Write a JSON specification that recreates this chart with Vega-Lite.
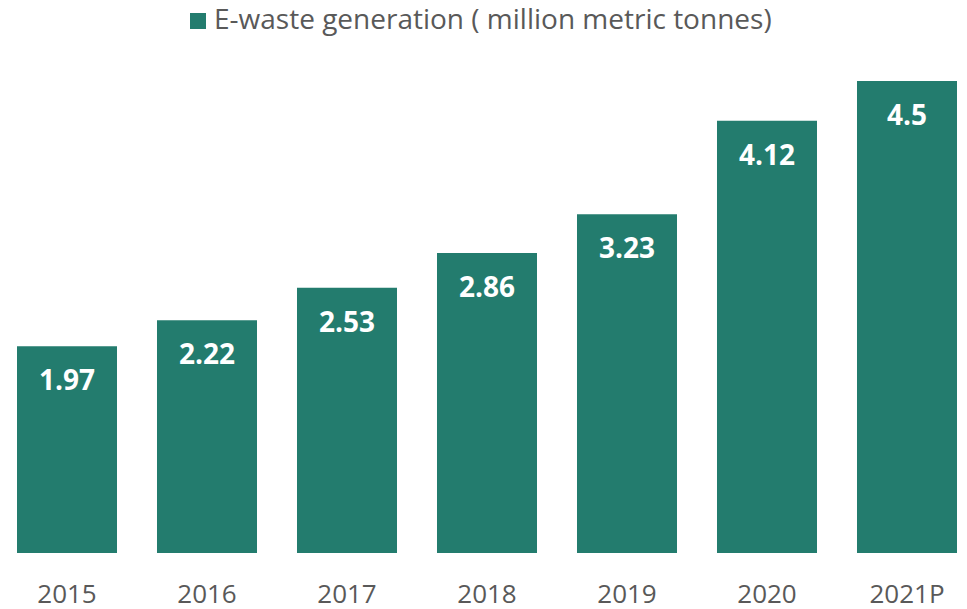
{
  "$schema": "https://vega.github.io/schema/vega-lite/v6.json",
  "width": 940,
  "height": 472,
  "autosize": {"type": "none"},
  "padding": {"left": 17, "top": 81, "right": 10, "bottom": 56},
  "background": "white",
  "data": {"values": [
    {"year": "2015", "value": 1.97, "series": "E-waste generation ( million metric tonnes)"},
    {"year": "2016", "value": 2.22, "series": "E-waste generation ( million metric tonnes)"},
    {"year": "2017", "value": 2.53, "series": "E-waste generation ( million metric tonnes)"},
    {"year": "2018", "value": 2.86, "series": "E-waste generation ( million metric tonnes)"},
    {"year": "2019", "value": 3.23, "series": "E-waste generation ( million metric tonnes)"},
    {"year": "2020", "value": 4.12, "series": "E-waste generation ( million metric tonnes)"},
    {"year": "2021P", "value": 4.5, "series": "E-waste generation ( million metric tonnes)"}
  ]},
  "config": {"view": {"stroke": null}, "font": "Open Sans"},
  "encoding": {
    "x": {"field": "year", "type": "ordinal", "sort": null,
      "scale": {"paddingInner": 0.2857, "paddingOuter": 0},
      "axis": {"title": null, "domain": false, "ticks": false, "labelAngle": 0,
        "labelFontSize": 26, "labelColor": "#595959", "labelPadding": 28, "labelFont": "Open Sans"}},
    "y": {"field": "value", "type": "quantitative", "scale": {"domain": [0, 4.5], "nice": false}, "axis": null}
  },
  "layer": [
    {"mark": {"type": "bar", "color": "#237C6E"},
     "encoding": {"fill": {"field": "series", "type": "nominal",
       "scale": {"range": ["#237C6E"]},
       "legend": {"title": null, "orient": "none", "legendX": 167, "legendY": -74,
         "symbolType": "square", "symbolSize": 256, "symbolStrokeWidth": 0, "labelOffset": 2,
         "labelFontSize": 28, "labelColor": "#595959", "labelFont": "Open Sans", "labelLimit": 800, "symbolOffset": 0}}}},
    {"mark": {"type": "text", "baseline": "middle", "dy": 36, "color": "white", "fontSize": 28, "fontWeight": "bold", "font": "Open Sans"},
     "encoding": {"text": {"field": "value", "type": "quantitative"}}}
  ]
}
